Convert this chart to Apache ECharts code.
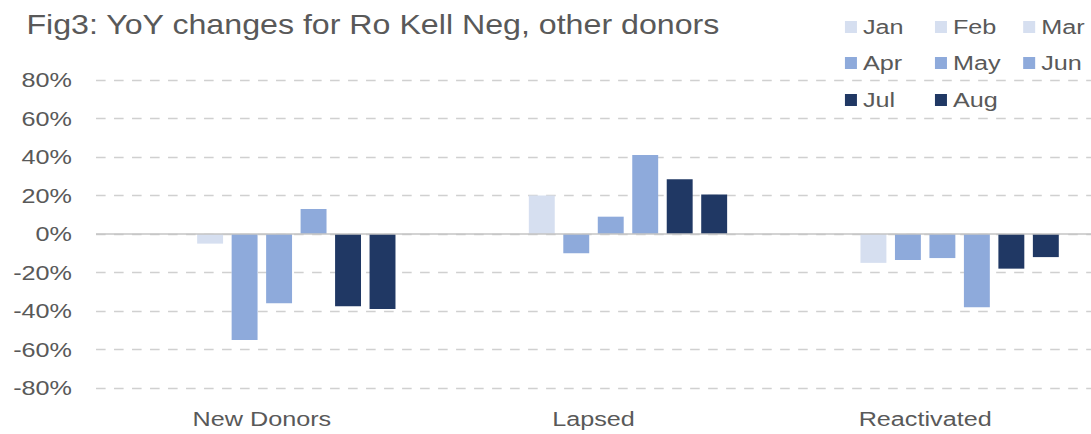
<!DOCTYPE html>
<html>
<head>
<meta charset="utf-8">
<script src="https://cdn.jsdelivr.net/npm/echarts@6/dist/echarts.min.js"></script>
<style>
  html, body { margin: 0; padding: 0; background: #ffffff; overflow: hidden; }
  /* chart is laid out on a narrower canvas and widened to the window */
  #chart { width: 909px; height: 434px; transform: scaleX(1.2002); transform-origin: 0 0; }
</style>
</head>
<body>
<div id="chart"></div>
<script>
// ---- data ----
const categories = ['New Donors', 'Lapsed', 'Reactivated'];
const months = ['Jan', 'Feb', 'Mar', 'Apr', 'May', 'Jun', 'Jul', 'Aug'];
const janValues = [null, null, null];
const febValues = [null, null, null];
const marValues = [-5, 20, -15];
const aprValues = [-55, -10, -13.5];
const mayValues = [-36, 9, -12.5];
const junValues = [13, 41, -38];
const julValues = [-37.5, 28.5, -18];
const augValues = [-39, 20.5, -12];
const yTicks = [-80, -60, -40, -20, 0, 20, 40, 60, 80];

const seriesValues = [janValues, febValues, marValues, aprValues, mayValues, junValues, julValues, augValues];

// ---- styling ----
const LIGHT = '#d6dff0';
const MID = '#8eaadb';
const DARK = '#203864';
const monthColors = [LIGHT, LIGHT, LIGHT, MID, MID, MID, DARK, DARK];
const FONT = '"Liberation Sans", Arial, sans-serif';
const TEXT = '#595959';

// legend grid: 3 columns x 3 rows
const legendCols = [704, 779, 852.5];
const legendRows = [27, 63, 100];

const chart = echarts.init(document.getElementById('chart'), null, { renderer: 'svg' });

const series = months.map((m, i) => {
  const s = {
    name: m,
    type: 'bar',
    data: seriesValues[i],
    barWidth: 21.6,
    barGap: '33%',
    itemStyle: { color: monthColors[i] },
    emphasis: { disabled: true },
    animation: false
  };
  if (i === months.length - 1) {
    s.markLine = {
      silent: true,
      symbol: 'none',
      label: { show: false },
      lineStyle: { type: 'solid', color: '#c4c4c4', width: 1.6 },
      data: [{ yAxis: 0 }],
      animation: false
    };
  }
  return s;
});

const legends = months.map((m, i) => ({
  show: true,
  data: [m],
  left: legendCols[i % 3],
  top: legendRows[Math.floor(i / 3)] - 10.5,
  padding: 0,
  itemWidth: 10,
  itemHeight: 12,
  icon: 'rect',
  selectedMode: false,
  textStyle: { fontFamily: FONT, fontSize: 21, color: TEXT }
}));

chart.setOption({
  animation: false,
  title: {
    text: 'Fig3: YoY changes for Ro Kell Neg, other donors',
    left: 22,
    top: 10.5,
    padding: 0,
    textStyle: { fontFamily: FONT, fontSize: 26.8, fontWeight: 'normal', color: TEXT }
  },
  legend: legends,
  grid: { left: 80, right: 0, top: 80, bottom: 46, containLabel: false },
  xAxis: {
    type: 'category',
    data: categories,
    axisLine: { show: false, onZero: false },
    axisTick: { show: false },
    axisLabel: { fontFamily: FONT, fontSize: 21, color: TEXT, margin: 20 },
    splitLine: { show: false }
  },
  yAxis: {
    type: 'value',
    min: yTicks[0],
    max: yTicks[yTicks.length - 1],
    interval: 20,
    axisLine: { show: false },
    axisTick: { show: false },
    axisLabel: { fontFamily: FONT, fontSize: 21, color: TEXT, margin: 20, formatter: '{value}%' },
    splitLine: { show: true, lineStyle: { type: [8, 7], color: '#d0d0d0', width: 1.4 } }
  },
  series: series
});
</script>
</body>
</html>
